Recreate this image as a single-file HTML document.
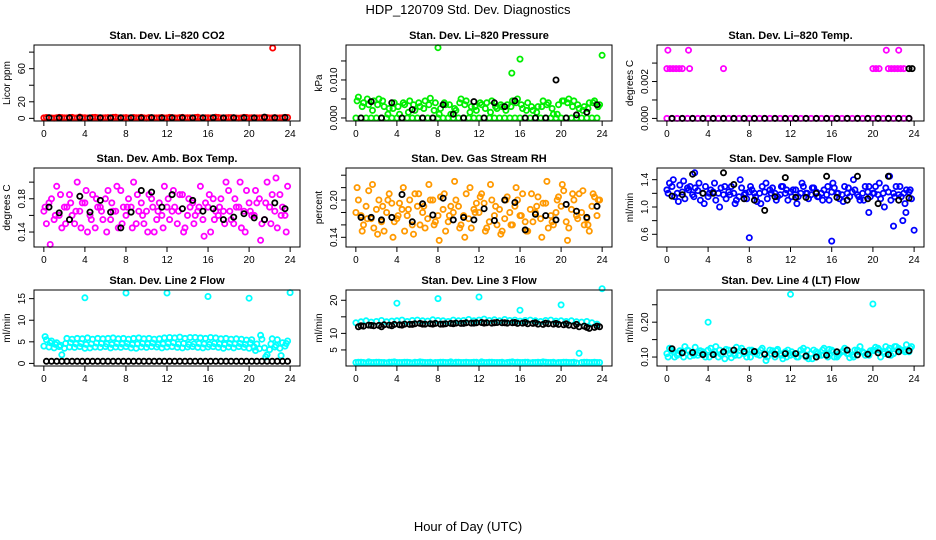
<!DOCTYPE html>
<html><head><meta charset="utf-8"><style>
html,body{margin:0;padding:0;background:#fff;}
svg{display:block;font-family:"Liberation Sans",Arial,sans-serif;}
</style></head><body>
<svg id="chart" width="936" height="540" viewBox="0 0 936 540" xmlns="http://www.w3.org/2000/svg">
<text x="468" y="14" font-size="13" text-anchor="middle">HDP_120709  Std. Dev. Diagnostics</text>
<text x="468" y="531" font-size="13" text-anchor="middle">Hour of Day (UTC)</text>
</svg>
<script>
// ---- data ----
const xTicks=[0,4,8,12,16,20,24];
const p1_red=[0.5,0.8,0.3,1.2,0.6,0.9,0.4,1.5,0.7,0.5,1.1,0.3,0.8,0.6,1.3,0.4,0.9,0.5,0.7,1.2,0.3,0.8,0.6,1.0,0.5,0.9,0.4,1.1,0.7,0.5,1.4,0.6,0.8,0.4,1.0,0.5,0.9,0.7,0.3,1.2,0.6,0.8,0.5,1.0,0.4,0.9,0.6,1.1];
const p1_red2=[1.0,0.4,0.7,0.9,0.5,1.2,0.6,0.8,0.4,1.0,0.7,0.5,0.9,1.1,0.6,0.8,0.4,1.0,0.7,0.5,0.9,0.6,0.8,0.4,1.1,0.6,0.9,0.5,0.7,1.0,0.4,0.8,0.6,1.3,0.5,0.7,0.9,0.4,0.6,1.0,0.8,0.5,0.7,0.9,0.6,0.4,0.8,1.0];
const p1_outX=[22.3], p1_outY=[85];
const p1_black=[0.8,0.6,0.7,0.9,0.5,0.8,0.6,0.7,0.8,0.6,0.9,0.5,0.7,0.8,0.6,0.7,0.9,0.6,0.8,0.7,0.6,1.5,0.8,1.0];
const p2_g0=new Array(48).fill(0);
const p2_g1=[0.0055,0.004,0.0035,0.0045,0.005,0.003,0.0025,0.004,0.001,0.0035,0.0045,0.002,0.003,0.0045,0.0052,0.004,0.0025,0.0035,0.001,0.002,0.005,0.0045,0.003,0.002,0.0035,0.004,0.0045,0.0025,0.003,0.0035,0.0045,0.005,0.0025,0.004,0.002,0.003,0.0045,0.004,0.001,0.0035,0.0045,0.005,0.0045,0.0025,0.003,0.004,0.0045,0.0035];
const p2_g2=[0.0045,0.003,0.005,0.002,0.0035,0.0045,0.001,0.0025,0.003,0.004,0.0015,0.0035,0.004,0.0025,0.0035,0.002,0.001,0.004,0.0035,0.0025,0.004,0.0035,0.0015,0.003,0.004,0.0025,0.0015,0.003,0.0035,0.002,0.003,0.004,0.0035,0.002,0.003,0.0015,0.003,0.0035,0.0025,0.001,0.0045,0.004,0.003,0.0035,0.002,0.0025,0.004,0.003];
const p2_outX=[8,16,15.2,24], p2_outY=[0.0185,0.0155,0.0118,0.0165];
const p2_black=[0,0.0043,0,0.004,0,0.0022,0,0,0.0035,0.001,0,0.0043,0,0.004,0.003,0.0045,0,0,0,0.01,0,0.0008,0.0015,0.0035];
const p3_m0=new Array(48).fill(0);
const p3_rowX=[0,0.3,0.6,0.9,1.2,1.5,2.2,5.5,20,20.3,20.6,21.5,21.8,22.1,22.4,22.7,23];
const p3_rowY=[0.0027,0.0027,0.0027,0.0027,0.0027,0.0027,0.0027,0.0027,0.0027,0.0027,0.0027,0.0027,0.0027,0.0027,0.0027,0.0027,0.0027];
const p3_topX=[0.1,2.1,21.3,22.5], p3_topY=[0.0037,0.0037,0.0037,0.0037];
const p3_black=new Array(24).fill(0);
const p3_bx=[23.5,23.8], p3_by=[0.0027,0.0027];
const p4_a=[.165,.175,.155,.16,.17,.185,.15,.165,.175,.16,.145,.17,.18,.155,.165,.19,.16,.17,.15,.175,.165,.18,.155,.16,.17,.165,.15,.185,.16,.175,.165,.155,.17,.18,.16,.165,.19,.15,.17,.165,.175,.16,.18,.155,.17,.165,.185,.16];
const p4_b=[.15,.18,.195,.145,.17,.16,.2,.175,.14,.185,.17,.155,.19,.165,.145,.17,.18,.2,.165,.15,.185,.14,.175,.195,.155,.17,.185,.145,.17,.16,.195,.175,.14,.165,.18,.2,.155,.17,.145,.19,.16,.175,.15,.2,.185,.145,.17,.195];
const p4_c=[.17,.125,.16,.185,.15,.175,.165,.145,.19,.155,.18,.165,.14,.175,.195,.15,.17,.145,.185,.16,.14,.17,.165,.145,.18,.19,.165,.14,.18,.15,.17,.135,.185,.155,.17,.15,.165,.18,.2,.14,.165,.19,.13,.175,.15,.205,.16,.14];
const p4_black=[.17,.163,.155,.183,.164,.178,.164,.145,.164,.19,.188,.17,.185,.168,.178,.165,.168,.155,.158,.162,.157,.155,.175,.168];
const p5_a=[.18,.175,.19,.17,.185,.165,.18,.195,.17,.185,.175,.16,.19,.18,.17,.2,.175,.185,.165,.18,.19,.175,.17,.185,.18,.195,.165,.175,.185,.17,.18,.19,.175,.165,.185,.18,.17,.195,.175,.18,.19,.165,.185,.175,.18,.17,.19,.175];
const p5_b=[.2,.16,.215,.155,.2,.15,.21,.165,.195,.15,.2,.21,.16,.155,.2,.165,.205,.15,.19,.2,.16,.21,.155,.195,.21,.155,.2,.16,.15,.205,.16,.2,.21,.15,.165,.205,.195,.155,.16,.205,.215,.155,.2,.21,.16,.15,.205,.2];
const p5_c=[.22,.15,.17,.225,.145,.19,.2,.14,.175,.22,.185,.145,.21,.19,.225,.16,.135,.21,.175,.23,.155,.14,.22,.18,.205,.15,.225,.19,.145,.2,.16,.22,.175,.15,.21,.19,.14,.23,.165,.2,.225,.135,.21,.17,.215,.16,.21,.2];
const p5_black=[.172,.172,.168,.172,.209,.165,.194,.176,.203,.168,.172,.168,.186,.167,.2,.196,.152,.177,.175,.168,.193,.182,.172,.19];
const p6_a=[1.25,1.3,1.2,1.22,1.28,1.18,1.24,1.2,1.15,1.22,1.2,1.18,1.22,1.2,1.15,1.18,1.22,1.2,1.2,1.22,1.25,1.2,1.18,1.2,1.22,1.25,1.2,1.2,1.18,1.22,1.2,1.18,1.22,1.2,1.18,1.2,1.22,1.18,1.2,1.22,1.2,1.18,1.2,1.22,1.2,1.18,1.2,1.22];
const p6_b=[1.35,1.15,1.32,1.12,1.3,1.28,1.1,1.3,1.25,1.1,1.28,1.12,1.3,1.1,1.28,1.12,1.25,1.08,1.3,1.12,1.28,1.15,1.3,1.1,1.25,1.15,1.3,1.12,1.28,1.15,1.25,1.1,1.28,1.12,1.3,1.15,1.25,1.1,1.3,1.15,1.3,1.12,1.28,1.1,1.3,1.15,1.25,1.12];
const p6_c=[1.2,1.4,1.08,1.38,1.25,1.15,1.35,1.05,1.2,1.35,1.0,1.3,1.18,1.05,1.4,1.2,1.3,1.15,1.05,1.35,1.2,1.1,1.3,1.25,1.15,1.05,1.35,1.2,1.28,1.15,1.1,1.3,1.35,1.2,1.08,1.28,1.4,1.15,1.1,1.3,1.2,1.35,1.0,1.45,1.15,1.3,1.05,1.25];
const p6_outX=[8,16,24,22,22.9,23.2,19.6,2.7], p6_outY=[0.55,0.5,0.66,0.72,0.8,0.92,0.92,1.5];
const p6_black=[1.16,1.18,1.48,1.2,1.2,1.5,1.33,1.12,1.1,0.95,1.15,1.43,1.14,1.14,1.2,1.45,1.14,1.1,1.45,1.12,1.05,1.45,1.1,1.13];
const p7_a=[4,3.8,3.6,3.9,3.5,3.8,3.7,3.9,3.5,3.6,3.8,3.7,3.9,3.6,3.8,3.7,3.9,3.6,3.5,3.8,3.7,3.9,3.8,3.6,3.8,3.9,3.7,3.6,3.8,3.9,3.7,3.6,3.8,3.9,3.7,3.5,3.8,3.6,3.9,3.7,3.5,3.8,3.4,3.6,3.2,3.8,3.5,4.0];
const p7_b=[5.5,5.2,4.8,2,5.8,5.6,5.8,5.7,5.9,5.6,5.8,5.7,5.8,5.9,5.7,5.8,5.6,5.8,5.9,5.7,5.8,5.6,5.7,5.9,6,5.9,6.1,5.8,6,6,5.9,5.8,6,5.9,5.7,5.8,5.6,5.7,5.6,5.4,5.5,4.5,5.6,2,5.7,5.5,4.8,5.2];
const p7_c=[6.2,4.8,4.4,4.2,4.6,4.8,4.5,4.6,4.4,4.5,4.7,4.6,4.5,4.4,4.6,4.5,4.6,4.4,4.5,4.6,4.5,4.7,4.4,4.5,4.6,4.8,4.5,4.6,4.4,4.5,4.6,4.5,4.4,4.6,4.5,4.4,4.6,4.5,4.6,4.4,4.8,3,6.5,1.5,4.5,4.2,1.8,4.6];
const p7_outX=[4,8,12,16,20,24], p7_outY=[15.2,16.3,16.3,15.5,15.1,16.4];
const p7_black=[0.5,0.5,0.5,0.5,0.5,0.5,0.5,0.5,0.5,0.5,0.5,0.5,0.5,0.5,0.5,0.5,0.5,0.5,0.5,0.5,0.5,0.5,0.5,0.5,0.5,0.5,0.5,0.5,0.5,0.5,0.5,0.5,0.5,0.5,0.5,0.5,0.5,0.5,0.5,0.5,0.5,0.5,0.5,0.5,0.5,0.5,0.5,0.5];
const p8_a=[13.2,13.5,13.8,13.4,13.6,13.9,13.5,13.7,13.8,14,13.6,13.9,14,13.8,13.7,14.1,13.9,13.8,13.6,14,13.8,13.9,14.2,13.8,14,14.3,13.9,14.1,13.8,14.2,13.9,14,13.7,13.9,14,13.8,13.6,13.9,14,13.7,13.8,13.6,13.8,13.5,13.4,13.6,13.2,12.8];
const p8_b=[12,12.2,12.5,12.3,12.4,12.6,12.5,12.7,12.6,12.8,12.7,12.9,13,12.8,12.9,13,12.8,12.9,13,13.1,13,13.2,13.1,13.2,13.3,13.2,13.1,13.3,13.2,13.1,13.2,13,13.1,12.9,13,12.8,12.7,12.9,12.8,12.7,12.6,12.5,12.3,12,12.2,11.5,11.8,12];
const p8_c=[1.2,1.3,1.1,1.2,1.3,1.2,1.1,1.3,1.2,1.2,1.3,1.1,1.2,1.3,1.2,1.1,1.2,1.3,1.2,1.1,1.3,1.2,1.2,1.3,1.1,1.2,1.3,1.2,1.2,1.1,1.3,1.2,1.2,1.3,1.1,1.2,1.2,1.3,1.2,1.1,1.2,1.3,1.2,1.1,1.2,1.3,1.2,1.2];
const p8_d=[1.3,1.2,1.4,1.2,1.3,1.2,1.3,1.4,1.2,1.3,1.2,1.3,1.4,1.2,1.3,1.2,1.3,1.2,1.4,1.3,1.2,1.3,1.2,1.3,1.4,1.2,1.3,1.2,1.3,1.2,1.4,1.3,1.2,1.3,1.2,1.3,1.4,1.2,1.3,1.2,1.3,1.2,1.3,4.0,1.3,1.2,1.3,1.2];
const p8_outX=[4,8,12,16,20,24], p8_outY=[19.1,20.5,21,17,18.6,23.5];
const p8_black=[12.3,12.4,12,12.3,12.5,12.7,12.8,12.8,12.8,12.9,13,13.1,13.1,13.2,13.2,13.3,13.3,13.2,13.1,13,12.9,12.7,11.8,12.2];
const p9_a=[.11,.12,.105,.115,.12,.11,.105,.115,.12,.11,.1,.115,.12,.11,.105,.11,.12,.115,.105,.11,.12,.1,.11,.115,.105,.11,.12,.1,.11,.115,.105,.11,.12,.1,.115,.11,.105,.12,.115,.11,.12,.125,.115,.12,.11,.125,.12,.115];
const p9_b=[.125,.1,.118,.13,.102,.128,.118,.1,.125,.13,.108,.122,.098,.128,.125,.1,.12,.108,.125,.1,.118,.122,.095,.12,.108,.1,.125,.095,.12,.105,.125,.122,.1,.11,.125,.098,.12,.13,.105,.118,.128,.1,.13,.105,.13,.12,.135,.13];
const p9_c=[.1,.115,.11,.1,.118,.105,.112,.11,.1,.115,.12,.095,.11,.105,.118,.112,.1,.115,.12,.09,.11,.118,.105,.1,.115,.1,.11,.12,.095,.11,.12,.1,.115,.105,.118,.11,.1,.115,.112,.105,.118,.12,.11,.125,.13,.12,.115,.125];
const p9_outX=[4,12,20], p9_outY=[0.2,0.28,0.252];
const p9_black=[.124,.112,.113,.107,.107,.115,.12,.116,.116,.108,.108,.11,.11,.103,.1,.105,.115,.12,.106,.108,.112,.107,.115,.118];

// hour grids (regular half-hour / hourly sampling)
const hA=[],hB=[],hC=[],hK=[];
for(let i=0;i<48;i++){hA.push(i*0.5);hB.push(i*0.5+0.25);hC.push(i*0.5+0.12);}
for(let i=0;i<24;i++){hK.push(i+0.5);}

const NS='http://www.w3.org/2000/svg';
const svg=document.getElementById('chart');
function mk(tag,attrs,parent){const e=document.createElementNS(NS,tag);for(const k in attrs)e.setAttribute(k,attrs[k]);(parent||svg).appendChild(e);return e;}

const cols=[[34,300],[346,612],[657,924]];
const rows=[[45,121],[168,247],[290,366]];
const panels=[
 {name:'co2',title:'Stan. Dev. Li\u2013820 CO2',yl:'Licor ppm',lo:-3.2,hi:88.6,ticks:[0,20,40,60,80],labs:['0','20','','60',''],
  series:[[hA,p1_red,'#ff0000'],[hB,p1_red2,'#ff0000'],[p1_outX,p1_outY,'#ff0000'],[hK,p1_black,'#000']]},
 {name:'pressure',title:'Stan. Dev. Li\u2013820 Pressure',yl:'kPa',lo:-0.0008,hi:0.0192,ticks:[0,0.005,0.01,0.015],labs:['0.000','','0.010',''],
  series:[[hA,p2_g0,'#00ee00'],[hB,p2_g1,'#00ee00'],[hC,p2_g2,'#00ee00'],[p2_outX,p2_outY,'#00ee00'],[hK,p2_black,'#000']]},
 {name:'li820-temp',title:'Stan. Dev. Li\u2013820 Temp.',yl:'degrees C',lo:-0.00014,hi:0.00398,ticks:[0,0.001,0.002,0.003],labs:['0.000','','0.002',''],
  series:[[hA,p3_m0,'#ff00ff'],[p3_rowX,p3_rowY,'#ff00ff'],[p3_topX,p3_topY,'#ff00ff'],[hK,p3_black,'#000'],[p3_bx,p3_by,'#000']]},
 {name:'amb-box-temp',title:'Stan. Dev. Amb. Box Temp.',yl:'degrees C',lo:0.122,hi:0.217,ticks:[0.14,0.16,0.18,0.2],labs:['0.14','','0.18',''],
  series:[[hA,p4_a,'#ff00ff'],[hB,p4_b,'#ff00ff'],[hC,p4_c,'#ff00ff'],[hK,p4_black,'#000']]},
 {name:'gas-stream-rh',title:'Stan. Dev. Gas Stream RH',yl:'percent',lo:0.1244,hi:0.2516,ticks:[0.14,0.16,0.18,0.2,0.22,0.24],labs:['0.14','','','0.20','',''],
  series:[[hA,p5_a,'#ff9900'],[hB,p5_b,'#ff9900'],[hC,p5_c,'#ff9900'],[hK,p5_black,'#000']]},
 {name:'sample-flow',title:'Stan. Dev. Sample Flow',yl:'ml/min',lo:0.414,hi:1.571,ticks:[0.6,0.8,1.0,1.2,1.4],labs:['0.6','','1.0','','1.4'],
  series:[[hA,p6_a,'#0000ff'],[hB,p6_b,'#0000ff'],[hC,p6_c,'#0000ff'],[p6_outX,p6_outY,'#0000ff'],[hK,p6_black,'#000']]},
 {name:'line2-flow',title:'Stan. Dev. Line 2 Flow',yl:'ml/min',lo:-0.6,hi:17.0,ticks:[0,5,10,15],labs:['0','5','10','15'],
  series:[[hA,p7_a,'#00ffff'],[hB,p7_b,'#00ffff'],[hC,p7_c,'#00ffff'],[p7_outX,p7_outY,'#00ffff'],[hB,p7_black,'#000']]},
 {name:'line3-flow',title:'Stan. Dev. Line 3 Flow',yl:'ml/min',lo:0.15,hi:23.1,ticks:[5,10,15,20],labs:['5','10','','20'],
  series:[[hA,p8_a,'#00ffff'],[hA,p8_c,'#00ffff'],[hB,p8_d,'#00ffff'],[p8_outX,p8_outY,'#00ffff'],[hB,p8_b,'#000'],[hK,p8_black,'#000']]},
 {name:'line4-flow',title:'Stan. Dev. Line 4 (LT) Flow',yl:'ml/min',lo:0.0743,hi:0.2923,ticks:[0.1,0.15,0.2,0.25],labs:['0.10','','0.20',''],
  series:[[hA,p9_a,'#00ffff'],[hB,p9_b,'#00ffff'],[hC,p9_c,'#00ffff'],[p9_outX,p9_outY,'#00ffff'],[hK,p9_black,'#000']]}
];

panels.forEach((p,i)=>{
  const [L,R]=cols[i%3],[T,B]=rows[Math.floor(i/3)];
  const g=mk('g',{});
  
  
  const xs=x=>L+(x+0.96)/25.92*(R-L);
  const ys=y=>B-(y-p.lo)/(p.hi-p.lo)*(B-T);
  const t=mk('text',{x:(L+R)/2,y:T-6,'font-size':'11','font-weight':'bold','text-anchor':'middle'},g);
  t.textContent=p.title;
  
  
  const yl=mk('text',{x:0,y:0,'font-size':'10','text-anchor':'middle',transform:`translate(${L-24},${(T+B)/2}) rotate(-90)`},g);
  yl.textContent=p.yl;
  
  
  const pts=mk('g',{fill:'none','stroke-width':'1.8'},g);
  
  
  p.series.forEach(s=>{
    const [xa,ya,col]=s;
    for(let k=0;k<ya.length;k++){
      const c=mk('circle',{cx:xs(xa[k]).toFixed(1),cy:ys(ya[k]).toFixed(1),r:'2.6',stroke:col},pts);
      
      
    }
  });
  const box=mk('rect',{x:L,y:T,width:R-L,height:B-T,fill:'none',stroke:'#000','stroke-width':'1'},g);
  
  
  xTicks.forEach(v=>{
    const x=xs(v);
    mk('line',{x1:x,x2:x,y1:B,y2:B+5,stroke:'#000'},g);
    const tl=mk('text',{x:x,y:B+16,'font-size':'10','text-anchor':'middle'},g);
    tl.textContent=v;
    
    
  });
  p.ticks.forEach((v,k)=>{
    const y=ys(v);
    mk('line',{x1:L-5,x2:L,y1:y,y2:y,stroke:'#000'},g);
    if(p.labs[k]){
      const tl=mk('text',{x:0,y:0,'font-size':'10','text-anchor':'middle',transform:`translate(${L-9},${y}) rotate(-90)`},g);
      tl.textContent=p.labs[k];
      
      
    }
  });
});
</script>
</body></html>
